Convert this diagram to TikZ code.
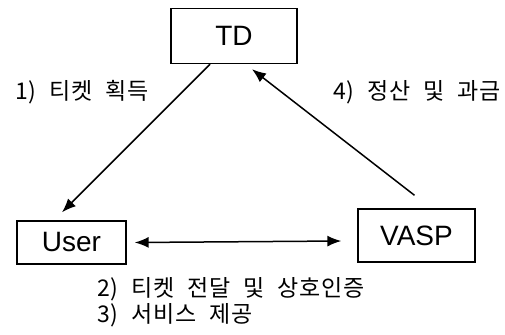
\documentclass[tikz,border=0pt]{standalone}
\usepackage{fontspec}
\setmainfont{Liberation Sans}
\newfontfamily\kr[LetterSpace=4,WordSpace=2.1]{Noto Sans CJK KR}
\usetikzlibrary{arrows.meta}
\begin{document}
\begin{tikzpicture}[x=1pt,y=-1pt,
  box/.style={draw,line width=1.4pt,inner sep=0pt,font=\fontsize{28}{30}\selectfont},
  conn/.style={line width=1.5pt,-{Latex[length=14pt,width=11pt]}},
  conn2/.style={line width=1.5pt,{Latex[length=14pt,width=11pt]}-{Latex[length=14pt,width=11pt]}},
  lbl/.style={inner sep=0pt,anchor=west,font=\kr\fontsize{23}{25}\selectfont}]
\useasboundingbox (0,0) rectangle (505,334);
\node[box,minimum width=126pt,minimum height=55pt] (TD) at (234,36) {TD};
\node[box,minimum width=109pt,minimum height=43pt] (User) at (71.5,242.5) {User};
\node[box,minimum width=117pt,minimum height=53pt] (VASP) at (416.5,235.5) {VASP};
\draw[conn] ([xshift=-24pt]TD.south) -- ([xshift=-9.5pt,yshift=8pt]User.north);
\draw[conn] ([xshift=-2pt,yshift=13pt]VASP.north) -- ([xshift=18pt,yshift=-5pt]TD.south);
\draw[conn2] ([xshift=8pt]User.east) -- ([xshift=-16pt,yshift=-5.5pt]VASP.west);
\node[lbl] (l1) at (15,92) {1) 티켓 획득};
\node[lbl] (l4) at (333,92) {4) 정산 및 과금};
\node[lbl] (l2) at (97,289) {2) 티켓 전달 및 상호인증};
\node[lbl] (l3) at (97,315) {3) 서비스 제공};
\end{tikzpicture}
\end{document}
